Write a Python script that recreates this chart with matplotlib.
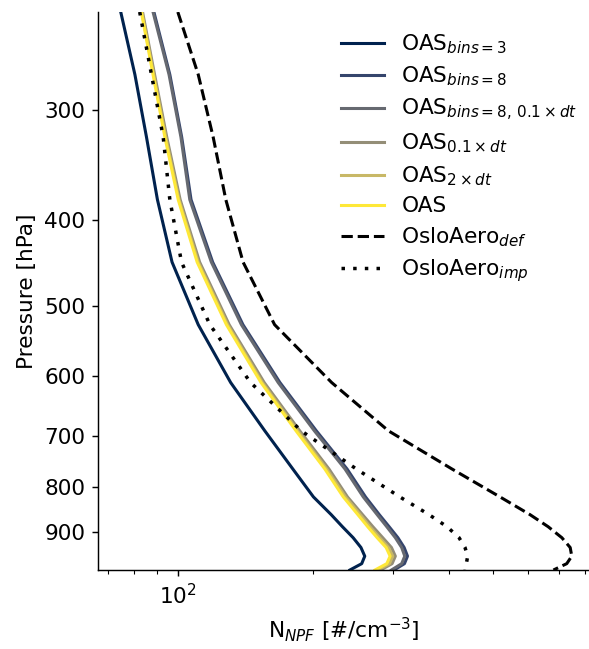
import numpy as np
import matplotlib
matplotlib.use("Agg")
import matplotlib.pyplot as plt
from matplotlib.ticker import NullLocator, FixedLocator, FixedFormatter

pressure = [232.83, 273.91, 322.24, 379.10, 445.99, 524.69, 609.78, 691.39,
            763.40, 820.86, 859.53, 887.02, 912.64, 936.20, 957.49, 976.33, 992.56]

oas_bins3 = [74.7, 80.3, 85.2, 90.1, 97.1, 111, 131, 156, 180, 200, 219, 232, 245, 255, 260, 256, 241]
oas_bins8 = [88.5, 96, 102, 107, 119.5, 139.5, 168.5, 203, 237.5, 261, 280, 294.5, 308, 318, 323.5, 318.5, 302]
oas_bins8_01dt = [88.1, 95.6, 101.6, 106.3, 118.7, 138.4, 167, 201, 235, 258, 277, 291, 304, 314, 319, 314, 298]
oas_01dt = [83.5, 88.8, 94.5, 101.2, 111.8, 130, 155.5, 186.5, 216.5, 238, 257, 271, 285, 298, 304, 299, 282]
oas_2dt = [83.2, 88.4, 94, 100.6, 111, 129, 154, 184.5, 214, 235.5, 254, 267, 280.5, 293.5, 300, 295, 278]
oas = [83, 88.1, 93.6, 100.2, 110.4, 128.2, 153, 183, 212, 233, 251, 264, 277, 290, 296, 291, 274]
oslo_def = [100, 111, 119.8, 127.8, 139.6, 164, 219.5, 293.5, 406, 519, 605, 664, 712, 743, 749, 730, 682]
oslo_imp = [82.3, 87.4, 92.8, 96, 101.9, 117.8, 145, 188, 249, 311, 361, 396, 421, 434, 440, 437, 434]

oas_series = [oas_bins3, oas_bins8, oas_bins8_01dt, oas_01dt, oas_2dt, oas]
oas_labels = [r'OAS$_{bins=3}$', r'OAS$_{bins=8}$', r'OAS$_{bins=8,\,0.1\times dt}$',
              r'OAS$_{0.1\times dt}$', r'OAS$_{2\times dt}$', 'OAS']
yticks = [300, 400, 500, 600, 700, 800, 900]

s = 1.3
plt.rcParams.update({
    'font.size': 12 * s,
    'xtick.major.size': 3.5 * s, 'ytick.major.size': 3.5 * s,
    'xtick.minor.size': 2 * s, 'ytick.minor.size': 2 * s,
    'xtick.major.width': 0.8 * s, 'ytick.major.width': 0.8 * s,
    'xtick.minor.width': 0.6 * s, 'ytick.minor.width': 0.6 * s,
    'axes.linewidth': 0.8 * s,
    'xtick.major.pad': 3.5 * s, 'ytick.major.pad': 3.5 * s,
    'axes.labelpad': 4 * s,
})
fig = plt.figure(figsize=(5.89, 6.49), dpi=100)
ax = fig.add_axes([98/589, 79/649, 491/589, 558/649])

colors = plt.cm.cividis(np.linspace(0, 1, len(oas_series)))
for vals, lab, c in zip(oas_series, oas_labels, colors):
    ax.plot(vals, pressure, color=c, lw=2.2, label=lab)
ax.plot(oslo_def, pressure, color='black', lw=2.2, ls='--', label=r'OsloAero$_{def}$')
ax.plot(oslo_imp, pressure, color='black', lw=2.5, ls=(0, (1, 2.36)), label=r'OsloAero$_{imp}$')

ax.set_xscale('log')
ax.set_yscale('log')
ax.set_xlim(66.5, 818)
ax.set_ylim(992.56, 232.83)
ax.yaxis.set_major_locator(FixedLocator(yticks))
ax.yaxis.set_major_formatter(FixedFormatter([str(t) for t in yticks]))
ax.yaxis.set_minor_locator(NullLocator())

ax.spines['top'].set_visible(False)
ax.spines['right'].set_visible(False)
ax.set_ylabel('Pressure [hPa]')
ax.set_xlabel(r'N$_{NPF}$ [#/cm$^{-3}$]')
ax.legend(loc='upper right', frameon=False, fontsize=12 * s, labelspacing=0.40,
          bbox_to_anchor=(1 + 8/491, 1 - 1/558))

fig.savefig('out.png', dpi=100)
